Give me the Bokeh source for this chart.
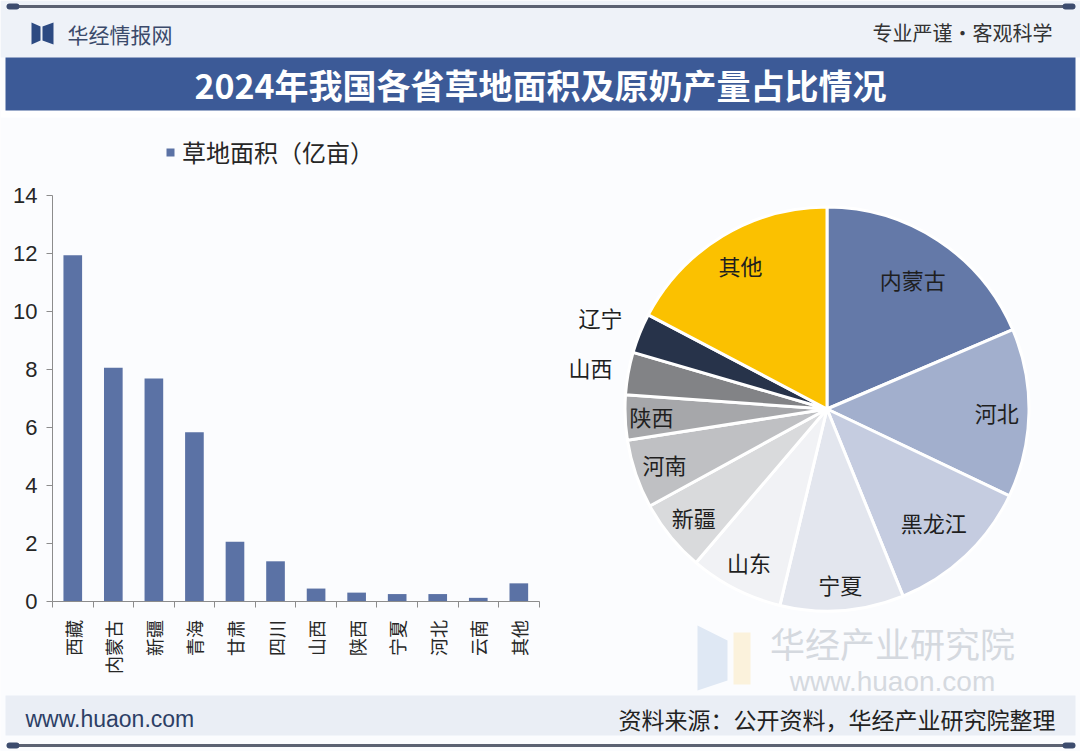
import math
from bokeh.plotting import figure
from bokeh.models import (Range1d, FixedTicker, Legend, LegendItem, ColumnDataSource, LinearAxis)
from bokeh.embed import file_html
from bokeh.resources import INLINE
from bokeh.core.properties import value

# ---------------- data ----------------
provinces = ["西藏", "内蒙古", "新疆", "青海", "甘肃", "四川", "山西", "陕西", "宁夏", "河北", "云南", "其他"]
grass_area = [11.95, 8.07, 7.70, 5.85, 2.07, 1.40, 0.46, 0.32, 0.27, 0.27, 0.14, 0.64]
y_ticks = [0, 2, 4, 6, 8, 10, 12, 14]

milk_regions = ["内蒙古", "河北", "黑龙江", "宁夏", "山东", "新疆", "河南", "陕西", "山西", "辽宁", "其他"]
milk_share = [18.6, 13.5, 11.8, 9.9, 7.5, 5.8, 5.5, 3.6, 3.4, 3.2, 17.3]

title_text = "2024年我国各省草地面积及原奶产量占比情况"
legend_label = "草地面积（亿亩）"
source_text = "资料来源：公开资料，华经产业研究院整理"

# ---------------- styles / layout ----------------
CJK = "Noto Sans CJK SC"
LAT = "Liberation Sans"
BG = "#fbfcfe"
BAR_COLOR = "#5b72a5"
AXIS_COLOR = "#8c8c8c"
pie_colors = ["#6479a8", "#a2afcd", "#c5cce0", "#e3e6ee", "#f1f2f5",
              "#d9dadc", "#bfc0c3", "#a6a7aa", "#828386", "#27334a", "#fbc100"]
label_r = [0.77, 0.84, 0.77, 0.87, 0.85, 0.85, 0.85, 0.87, 1.19, 1.21, 0.83]

W, H = 1080, 751
# bar plotting area in page pixels
BAR_LEFT, BAR_RIGHT, BAR_TOP, BAR_BOTTOM = 52.0, 538.6, 195.4, 601.4
Y_MAX = 14
# pie placement in page pixels
PIE_CX, PIE_CY, R = 826.5, 408.5, 202

n = len(provinces)
step = (BAR_RIGHT - BAR_LEFT) / n
ppu = (BAR_BOTTOM - BAR_TOP) / Y_MAX

p = figure(width=W, height=H, x_range=Range1d(0, W), y_range=Range1d(H, 0),
           x_axis_type=None, y_axis_type=None, toolbar_location=None, output_backend="svg",
           min_border=0, outline_line_color=None,
           background_fill_color=BG, border_fill_color=BG)
p.extra_x_ranges = {
    "bx": Range1d(-0.5 - BAR_LEFT / step, -0.5 + (W - BAR_LEFT) / step),
    "pxr": Range1d(-PIE_CX, W - PIE_CX),
}
p.extra_y_ranges = {
    "by": Range1d(-(H - BAR_BOTTOM) / ppu, Y_MAX + BAR_TOP / ppu),
    "pyr": Range1d(-(H - PIE_CY), PIE_CY),
}

# ---------------- header ----------------
p.quad(left=0, right=W, top=0, bottom=57, fill_color="#eef2f8", line_color=None)
p.quad(left=0, right=W, top=110, bottom=117, fill_color="white", line_color=None)
p.segment(x0=8, y0=6, x1=1072, y1=6, line_color="#5c6272", line_width=3)
p.segment(x0=[9, 1065], y0=[6, 6], x1=[16, 1072], y1=[6, 6],
          line_color="#3d4c6e", line_width=6, line_cap="round")
p.patches(xs=[[31, 40, 40, 31], [42, 53, 53, 42]],
          ys=[[22, 26, 40, 44], [26, 22, 44, 40]],
          fill_color="#2c4a82", line_color=None)
p.text(x=[67], y=[33], text=["华经情报网"], text_font=value(CJK),
       text_font_size="21px", text_color="#3b4a6b", text_align="left", text_baseline="middle")
p.text(x=[1052], y=[32], text=["专业严谨•客观科学"], text_font=value(CJK),
       text_font_size="20px", text_color="#333333", text_align="right", text_baseline="middle")
p.quad(left=5, right=1075, top=57, bottom=110, fill_color="#3c5a97", line_color=None)
p.text(x=[540], y=[84], text=[title_text], text_font=value(CJK), text_font_style="bold",
       text_font_size="34px", text_color="white", text_align="center", text_baseline="middle")

# ---------------- footer ----------------
p.quad(left=5, right=1075, top=695, bottom=735, fill_color="#eaeef5", line_color=None)
p.text(x=[25], y=[718], text=["www.huaon.com"], text_font=value(LAT),
       text_font_size="23px", text_color="#2d3f66", text_align="left", text_baseline="middle")
p.text(x=[1055], y=[718], text=[source_text], text_font=value(CJK),
       text_font_size="23px", text_color="#222222", text_align="right", text_baseline="middle")
p.segment(x0=8, y0=745, x1=1072, y1=745, line_color="#5c6272", line_width=3)
p.segment(x0=[9, 1065], y0=[745, 745], x1=[16, 1072], y1=[745, 745],
          line_color="#3d4c6e", line_width=6, line_cap="round")

# ---------------- watermark ----------------
p.patches(xs=[[697, 727, 727, 697], [733, 750, 750, 733]],
          ys=[[625, 640, 680, 690], [632, 632, 684, 684]],
          fill_color=["#dfe8f4", "#fbf2dc"], line_color=None)
p.text(x=[892], y=[642], text=["华经产业研究院"], text_font=value(CJK),
       text_font_size="35px", text_color="#d5d9df", text_align="center", text_baseline="middle")
p.text(x=[892], y=[681], text=["www.huaon.com"], text_font=value(LAT),
       text_font_size="28px", text_color="#d5d9df", text_align="center", text_baseline="middle")

# ---------------- bar chart ----------------
idx = list(range(n))
bsrc = ColumnDataSource(dict(x=idx, top=grass_area, name=provinces))
bars = p.vbar(x="x", top="top", width=0.46, source=bsrc, fill_color=BAR_COLOR, line_color=None,
              x_range_name="bx", y_range_name="by")

xa = LinearAxis(x_range_name="bx", y_range_name="by", fixed_location=0, bounds=(-0.5, n - 0.5))
xa.ticker = FixedTicker(ticks=idx, minor_ticks=[i - 0.5 for i in range(n + 1)])
xa.major_label_overrides = {i: name for i, name in enumerate(provinces)}
xa.major_label_orientation = math.pi / 2
xa.major_tick_out = 0
xa.major_tick_in = 0
xa.minor_tick_out = 6
xa.minor_tick_in = 0
xa.minor_tick_line_color = AXIS_COLOR
xa.axis_line_color = AXIS_COLOR
xa.major_label_standoff = 12
xa.major_label_text_font = CJK
xa.major_label_text_font_size = "18px"
xa.major_label_text_color = "#262626"
p.add_layout(xa, "below")

ya = LinearAxis(x_range_name="bx", y_range_name="by", fixed_location=-0.5, bounds=(0, Y_MAX))
ya.ticker = FixedTicker(ticks=y_ticks)
ya.major_tick_out = 6
ya.major_tick_in = 0
ya.minor_tick_out = 0
ya.minor_tick_in = 0
ya.major_tick_line_color = AXIS_COLOR
ya.axis_line_color = AXIS_COLOR
ya.major_label_standoff = 9
ya.major_label_text_font = LAT
ya.major_label_text_font_size = "22px"
ya.major_label_text_color = "#262626"
p.add_layout(ya, "left")

legend = Legend(items=[LegendItem(label=legend_label, renderers=[bars])], location=(165, 582),
                orientation="horizontal", padding=0, margin=0, border_line_alpha=0,
                background_fill_alpha=0, glyph_width=10, glyph_height=10, label_standoff=7,
                label_height=28, label_text_font=CJK, label_text_font_size="24px",
                label_text_color="#262626")
p.add_layout(legend)

# ---------------- pie chart ----------------
total = sum(milk_share)
starts, ends, lx, ly = [], [], [], []
cum = 0.0
for v, f in zip(milk_share, label_r):
    frac = v / total
    a_before = math.pi / 2 - 2 * math.pi * cum
    a_after = math.pi / 2 - 2 * math.pi * (cum + frac)
    mid = math.pi / 2 - 2 * math.pi * (cum + frac / 2)
    starts.append(a_after)
    ends.append(a_before)
    lx.append(R * f * math.cos(mid))
    ly.append(R * f * math.sin(mid))
    cum += frac

psrc = ColumnDataSource(dict(start=starts, end=ends, color=pie_colors, name=milk_regions,
                             share=milk_share, lx=lx, ly=ly))
p.wedge(x=0, y=0, radius=R, start_angle="start", end_angle="end", fill_color="color",
        line_color="white", line_width=3, source=psrc, x_range_name="pxr", y_range_name="pyr")
p.text(x="lx", y="ly", text="name", source=psrc, text_font=value(CJK), text_font_size="22px",
       text_color="#1f1f1f", text_align="center", text_baseline="middle",
       x_range_name="pxr", y_range_name="pyr")

open("out.html", "w").write(file_html(p, INLINE))
